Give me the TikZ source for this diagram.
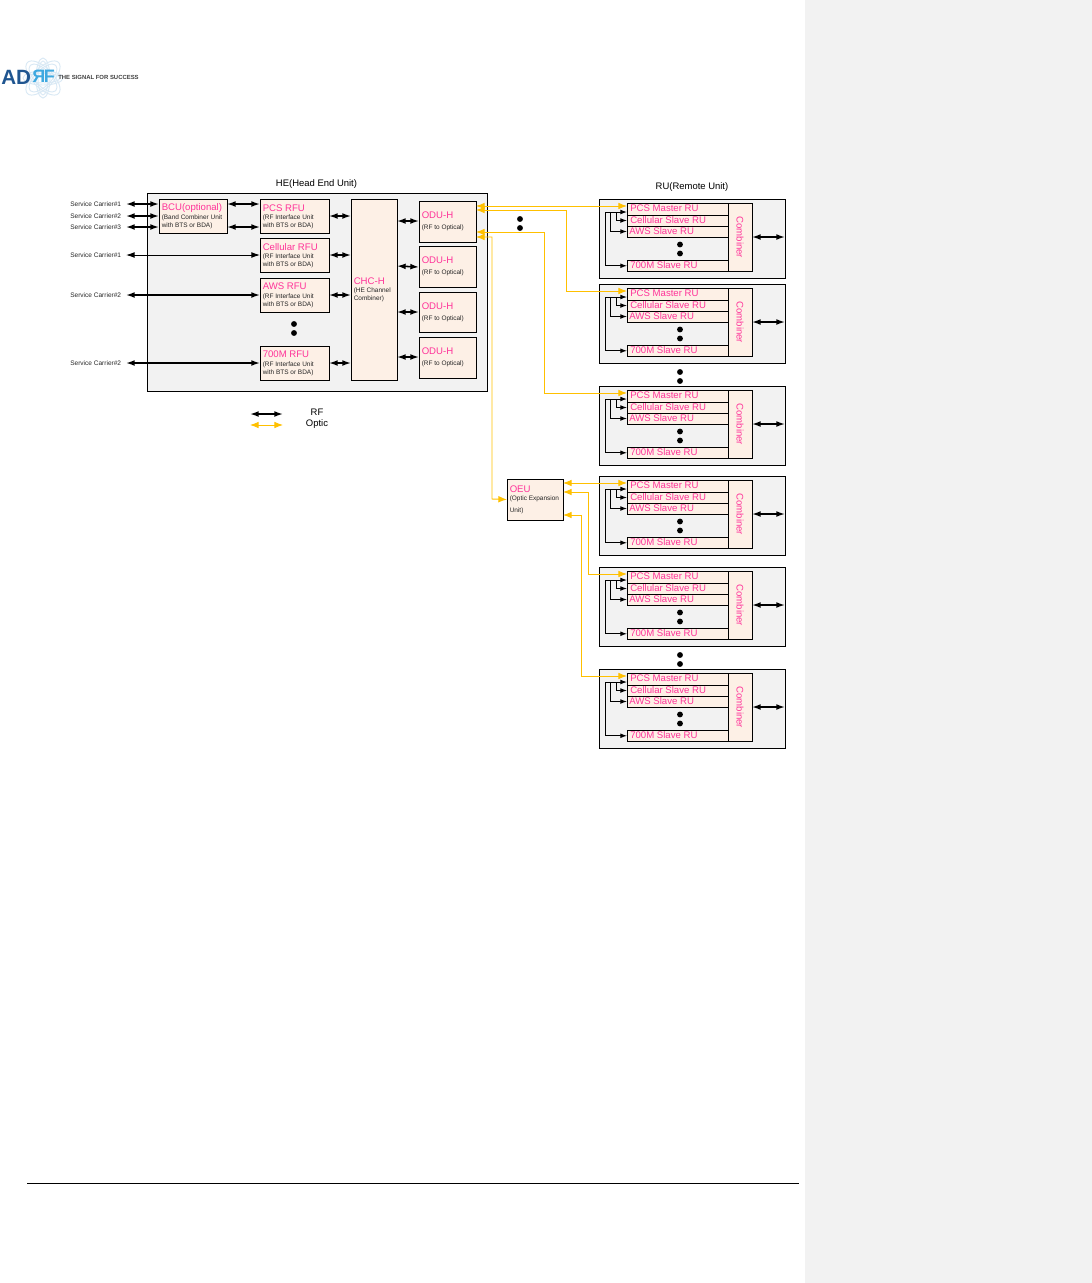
\documentclass[tikz,border=0pt]{standalone}
\usepackage{fontspec}
\setmainfont{Liberation Sans}
\usetikzlibrary{arrows.meta,calc}
\definecolor{panelgray}{HTML}{F2F2F2}
\definecolor{boxfill}{HTML}{FDF0E6}
\definecolor{labelpink}{HTML}{FF3399}
\definecolor{optic}{HTML}{FFC000}
\definecolor{logoblue}{HTML}{1F5590}
\definecolor{logocyan}{HTML}{3FA9E0}
\definecolor{logoring}{HTML}{D8E8F4}
\tikzset{
  panel/.style={draw=black,line width=0.75pt,fill=panelgray,inner sep=0pt,outer sep=0pt,anchor=north west},
  unitbox/.style={draw=black,line width=0.75pt,fill=boxfill,inner sep=0pt,outer sep=0pt,anchor=north west},
  mainlabel/.style={text=labelpink,inner sep=0pt,anchor=west,font=\fontsize{7.2pt}{8pt}\selectfont},
  sublabel/.style={text=black!85,inner sep=0pt,anchor=north west,align=left,font=\fontsize{4.85pt}{5.8pt}\selectfont},
  carrier/.style={text=black!85,inner sep=0pt,anchor=west,font=\fontsize{4.9pt}{5.65pt}\selectfont},
  heading/.style={inner sep=0pt,font=\fontsize{7.1pt}{8pt}\selectfont},
  dotmark/.style={circle,fill=black,inner sep=0pt,minimum size=4.4pt},
  rfthick/.style={line width=1.15pt,{Latex[length=6.5pt,width=4.4pt]}-{Latex[length=6.5pt,width=4.4pt]}},
  rfthin/.style={line width=0.7pt,{Latex[length=6.5pt,width=4.4pt]}-{Latex[length=6.5pt,width=4.4pt]}},
  feed/.style={line width=0.7pt,-{Latex[length=5pt,width=3.6pt]}},
  opticdouble/.style={draw=optic,line width=0.72pt,{Latex[length=6.5pt,width=5pt]}-{Latex[length=6.5pt,width=5pt]}},
}
% name, x1, y1, width, height, main label, sub label, label dy, sub dy
\newcommand{\UnitBox}[9]{%
  \node[unitbox,minimum width=#4*0.75pt,minimum height=#5*0.75pt] (#1) at (#2,#3) {};
  \node[mainlabel] (#1main) at ($(#1.north west)+(2.5,#8)$) {#6};
  \node[sublabel] (#1sub) at ($(#1.north west)+(2.5,#9)$) {#7};
}
% number, top y
\newcommand{\RemoteUnit}[2]{%
  \node[panel,minimum width=186*0.75pt,minimum height=79*0.75pt] (ru#1) at (599,#2) {};
  \node[unitbox,minimum width=101*0.75pt,minimum height=12*0.75pt] (ru#1a) at ($(ru#1.north west)+(28,4)$) {};
  \node[unitbox,minimum width=101*0.75pt,minimum height=11*0.75pt] (ru#1b) at ($(ru#1.north west)+(28,16)$) {};
  \node[unitbox,minimum width=101*0.75pt,minimum height=11*0.75pt] (ru#1c) at ($(ru#1.north west)+(28,27)$) {};
  \node[unitbox,minimum width=101*0.75pt,minimum height=11.5*0.75pt] (ru#1d) at ($(ru#1.north west)+(28,61)$) {};
  \node[unitbox,minimum width=24*0.75pt,minimum height=68.5*0.75pt] (ru#1comb) at ($(ru#1.north west)+(129,4)$) {};
  \node[mainlabel] at ($(ru#1a.west)+(3,-.5)$) {PCS Master RU};
  \node[mainlabel] at ($(ru#1b.west)+(3,-.6)$) {Cellular Slave RU};
  \node[mainlabel] at ($(ru#1c.west)+(2,-.4)$) {AWS Slave RU};
  \node[mainlabel] at ($(ru#1d.west)+(3,-.9)$) {700M Slave RU};
  \node[mainlabel,anchor=center,rotate=-90] at (ru#1comb.center) {Combiner};
  \node[dotmark] at ($(ru#1.north west)+(81,45.5)$) {};
  \node[dotmark] at ($(ru#1.north west)+(81,54.5)$) {};
  \coordinate (ru#1tap) at ($(ru#1.north west)+(6,13)$);
  \coordinate (ru#1out) at ($(ru#1.north west)+(186,38)$);
  \draw[feed] (ru#1tap) -- ($(ru#1a.south west)+(0,-3)$);
  \draw[feed] ($(ru#1tap)+(11,0)$) |- (ru#1b.west);
  \draw[feed] ($(ru#1tap)+(5,0)$) |- (ru#1c.west);
  \draw[feed] (ru#1tap) |- (ru#1d.west);
  \draw[rfthick] ($(ru#1comb.north east)+(0,34)$) -- (ru#1out);
}
\begin{document}
\begin{tikzpicture}[x=0.75pt,y=-0.75pt]
\useasboundingbox (0,0) rectangle (1092,1283);
% page furniture
\fill[panelgray] (805,0) rectangle (1092,1283);
\draw[line width=0.75pt] (27,1183) -- (799,1183);

% logo
\begin{scope}[shift={(43,78)},draw=logoring,line width=0.7pt]
  \foreach \r in {0,90}{
    \draw[rotate=\r] (0,0) ellipse (20 and 7);
    \draw[rotate=\r] (0,0) ellipse (17 and 5);
  }
  \foreach \r in {45,135}{
    \draw[rotate=\r] (0,0) ellipse (22 and 10);
    \draw[rotate=\r] (0,0) ellipse (18 and 8);
  }
\end{scope}
\node[inner sep=0pt,anchor=west,text=logoblue,font=\fontsize{15.5pt}{16pt}\selectfont\bfseries] (logoad) at (1,77.5) {AD};
\node[inner sep=0pt,anchor=west,text=logocyan,font=\fontsize{13.5pt}{16pt}\selectfont\bfseries] (logorf) at (32,76.5) {\scalebox{-1}[1]{R}\hspace{-1pt}F};
\node[inner sep=0pt,anchor=west,text=black!75,font=\fontsize{4.45pt}{5pt}\selectfont\bfseries] (logotag) at (58,77.5) {THE SIGNAL FOR SUCCESS};

% head end
\node[heading] (hetitle) at (316.5,184) {HE(Head End Unit)};
\node[panel,minimum width=340*0.75pt,minimum height=198*0.75pt] (he) at (147,193) {};
\UnitBox{bcu}{159}{199}{68}{34}{BCU(optional)}{(Band Combiner Unit\\with BTS or BDA)}{9}{15.5}
\UnitBox{pcs}{260}{199}{69}{34}{PCS RFU}{(RF Interface Unit\\with BTS or BDA)}{9}{15.5}
\UnitBox{cel}{260}{238}{69}{34}{Cellular RFU}{(RF Interface Unit\\with BTS or BDA)}{9}{15.5}
\UnitBox{aws}{260}{278}{69}{34}{AWS RFU}{(RF Interface Unit\\with BTS or BDA)}{8.5}{15.5}
\UnitBox{sev}{260}{346}{69}{34}{700M RFU}{(RF Interface Unit\\with BTS or BDA)}{8.5}{15.5}
\UnitBox{chc}{351}{199}{46}{181}{CHC-H}{(HE Channel\\Combiner)}{82}{88.5}
\UnitBox{oa}{419}{201}{57}{41}{ODU-H}{(RF to Optical)}{14}{24}
\UnitBox{ob}{419}{246}{57}{41}{ODU-H}{(RF to Optical)}{14}{24}
\UnitBox{oc}{419}{292}{57}{40}{ODU-H}{(RF to Optical)}{14}{24}
\UnitBox{od}{419}{337}{57}{41}{ODU-H}{(RF to Optical)}{14}{24}
\node[dotmark] (hedota) at (294,324) {};
\node[dotmark] (hedotb) at (294,333) {};

% carriers
\node[carrier] (sc1) at (70,204) {Service Carrier\#1};
\node[carrier] (sc2) at (70,216) {Service Carrier\#2};
\node[carrier] (sc3) at (70,227) {Service Carrier\#3};
\node[carrier] (sc4) at (70,255) {Service Carrier\#1};
\node[carrier] (sc5) at (70,295) {Service Carrier\#2};
\node[carrier] (sc6) at (70,363) {Service Carrier\#2};
\draw[rfthick] ($(sc1.west)+(56,0)$) -- ($(bcu.north west)+(0,5)$);
\draw[rfthick] ($(sc2.west)+(56,0)$) -- ($(bcu.north west)+(0,17)$);
\draw[rfthick] ($(sc3.west)+(56,0)$) -- ($(bcu.north west)+(0,28)$);
\draw[rfthin] ($(sc4.west)+(56,0)$) -- ($(cel.north west)+(0,17)$);
\draw[rfthick] ($(sc5.west)+(56,0)$) -- ($(aws.north west)+(0,17)$);
\draw[rfthick] ($(sc6.west)+(56,0)$) -- ($(sev.north west)+(0,17)$);
\draw[rfthick] ($(bcu.north east)+(0,5)$) -- ($(pcs.north west)+(0,5)$);
\draw[rfthick] ($(bcu.north east)+(0,28)$) -- ($(pcs.north west)+(0,28)$);
\draw[rfthick] ($(pcs.north east)+(0,17)$) -- ($(chc.north west)+(0,17)$);
\draw[rfthick] ($(cel.north east)+(0,17)$) -- ($(chc.north west)+(0,56)$);
\draw[rfthick] ($(aws.north east)+(0,17)$) -- ($(chc.north west)+(0,96)$);
\draw[rfthick] ($(sev.north east)+(0,17)$) -- ($(chc.north west)+(0,164)$);
\draw[rfthick] ($(chc.north east)+(0,22)$) -- ($(oa.north west)+(0,20)$);
\draw[rfthick] ($(chc.north east)+(0,67)$) -- ($(ob.north west)+(0,21)$);
\draw[rfthick] ($(chc.north east)+(0,113)$) -- ($(oc.north west)+(0,20)$);
\draw[rfthick] ($(chc.north east)+(0,158)$) -- ($(od.north west)+(0,20)$);

% legend
\coordinate (lega) at (250,414);
\coordinate (legb) at (283,414);
\coordinate (legc) at (250,425);
\coordinate (legd) at (283,425);
\draw[rfthick] (lega) -- (legb);
\draw[opticdouble] (legc) -- (legd);
\node[heading] (legrf) at (317,412.5) {RF};
\node[heading] (legopt) at (317,424.5) {Optic};

% remote units
\node[heading] (rutitle) at (692,187) {RU(Remote Unit)};
\RemoteUnit{1}{199}
\RemoteUnit{2}{284}
\RemoteUnit{3}{386}
\RemoteUnit{4}{476}
\RemoteUnit{5}{567}
\RemoteUnit{6}{669}
\node[dotmark] (mida) at (520,219) {};
\node[dotmark] (midb) at (520,228) {};
\node[dotmark] (gapa) at (680,372) {};
\node[dotmark] (gapb) at (680,381) {};
\node[dotmark] (gapc) at (680,655) {};
\node[dotmark] (gapd) at (680,664) {};

% OEU
\UnitBox{oeu}{507}{479}{56}{41}{OEU}{(Optic Expansion\\[2.6pt]Unit)}{10}{17}

% optic links
\draw[opticdouble] ($(oa.north east)+(0,5)$) -- ($(ru1a.west)+(0,-3)$);
\draw[opticdouble] ($(oa.north east)+(0,9)$) -| (566,291) -- ($(ru2a.west)+(0,-3)$);
\draw[opticdouble] ($(oa.north east)+(0,31)$) -| (544,393) -- ($(ru3a.west)+(0,-3)$);
\draw[opticdouble] ($(oa.north east)+(0,36)$) -| (492,499) -- (oeu.west);
\draw[opticdouble] ($(oeu.north east)+(0,4)$) -- ($(ru4a.west)+(0,-3)$);
\draw[opticdouble] ($(oeu.north east)+(0,13)$) -| (588,574) -- ($(ru5a.west)+(0,-3)$);
\draw[opticdouble] ($(oeu.north east)+(0,36)$) -| (581,676) -- ($(ru6a.west)+(0,-3)$);
\end{tikzpicture}
\end{document}
